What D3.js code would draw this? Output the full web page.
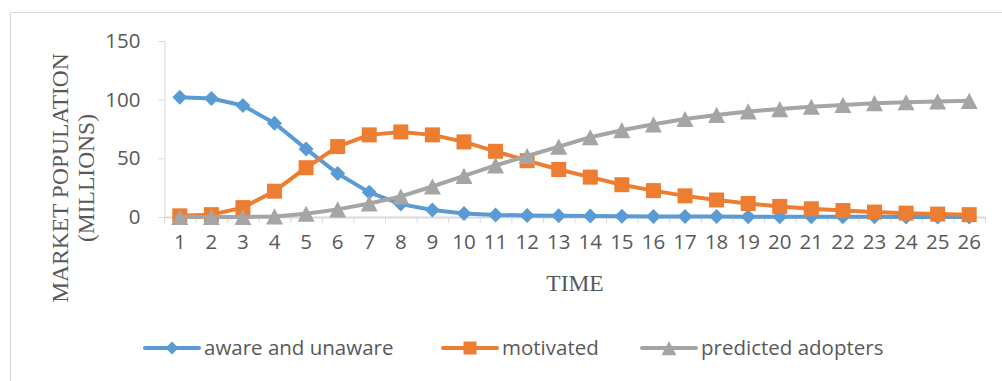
<!DOCTYPE html>
<html><head><meta charset="utf-8">
<script src="https://cdn.jsdelivr.net/npm/d3@7"></script>
<style>
body{margin:0;background:#fff;}
svg{display:block;}
</style></head>
<body>
<svg id="chart" width="1002" height="381"></svg>
<script>
const times = d3.range(1, 27).map(String);
const aware = [102, 101, 95, 80, 58, 37, 21, 11, 6, 3, 1.8, 1.3, 1, 0.8, 0.6, 0.5, 0.5, 0.4, 0.3, 0.3, 0.2, 0.2, 0.2, 0.1, 0.1, 0.1];
const motivated = [1, 2, 8, 22, 42, 60, 70, 72.5, 70, 64, 56, 48, 40.5, 34, 27.5, 22.5, 18, 14.5, 11.5, 9, 7, 5.5, 4.2, 3.3, 2.5, 2];
const adopters = [0, 0, 0, 0.5, 2.8, 6.5, 11.5, 17.5, 26, 35, 44, 52, 60, 68, 74, 79, 83.5, 87, 90, 92, 94, 95.5, 97, 97.8, 98.5, 99];
const yTicks = [0, 50, 100, 150];
const seriesNames = ["aware and unaware", "motivated", "predicted adopters"];
const seriesColors = ["#5B9BD5", "#ED7D31", "#A5A5A5"];

(function () {
// marker shapes (size = bounding box width in px)
const diamondShape = { draw(ctx, w) { const r = w / 2; ctx.moveTo(0, -r); ctx.lineTo(r, 0); ctx.lineTo(0, r); ctx.lineTo(-r, 0); ctx.closePath(); } };
const squareShape = { draw(ctx, w) { const r = w / 2; ctx.rect(-r, -r, w, w); } };
const triangleShape = { draw(ctx, w) { const r = w / 2, h = w * 0.95 / 2; ctx.moveTo(0, -h); ctx.lineTo(r, h); ctx.lineTo(-r, h); ctx.closePath(); } };
const shapes = [diamondShape, squareShape, triangleShape];
const markerW = [15, 15, 17];

const svg = d3.select("#chart");
const sans = "'Open Sans', 'Noto Sans', sans-serif";
const serif = "'Liberation Serif', 'Times New Roman', serif";
const textCol = "#595959";
const axisCol = "#d9d9d9";

// outer frame
svg.append("path").attr("d", "M10.5,381 V12.5 H1002").attr("fill", "none").attr("stroke", axisCol).attr("stroke-width", 1);

const mLeft = 164, mRight = 985, mTop = 41, mBottom = 217;
const x = d3.scaleBand().domain(times).range([mLeft, mRight]);
const y = d3.scaleLinear().domain([0, 150]).range([mBottom, mTop]);

// y axis
const yAxis = svg.append("g").attr("transform", `translate(${mLeft + 0.5},0)`)
  .call(d3.axisLeft(y).tickValues(yTicks).tickSize(6).tickPadding(18));
yAxis.select(".domain").attr("stroke", axisCol);
yAxis.selectAll(".tick line").attr("stroke", axisCol);
yAxis.selectAll(".tick text").attr("fill", textCol).style("font-family", sans).style("font-size", "20.5px");

// x axis
const xAxis = svg.append("g").attr("transform", `translate(0,${mBottom})`)
  .call(d3.axisBottom(x).tickSize(0).tickPadding(17));
xAxis.select(".domain").attr("stroke", axisCol).attr("stroke-width", 2);
xAxis.selectAll(".tick text").attr("fill", textCol).style("font-family", sans).style("font-size", "20.5px");
// category boundary tick marks
const bounds = times.map(t => x(t)).concat([mRight]);
svg.append("g").selectAll("line").data(bounds).join("line")
  .attr("x1", d => d + 0.5).attr("x2", d => d + 0.5)
  .attr("y1", mBottom).attr("y2", mBottom + 6)
  .attr("stroke", axisCol).attr("stroke-width", 1);

// axis titles
svg.append("text").attr("x", 575).attr("y", 291).attr("text-anchor", "middle")
  .attr("fill", textCol).style("font-family", serif).style("font-size", "23.5px").text("TIME");
const yt = svg.append("text").attr("transform", "translate(68,178) rotate(-90)")
  .attr("text-anchor", "middle").attr("fill", textCol).style("font-family", serif).style("font-size", "23.5px");
yt.append("tspan").attr("x", 0).attr("dy", 0).text("MARKET POPULATION");
yt.append("tspan").attr("x", 0).attr("dy", 26).text("(MILLIONS)");

// series
const allSeries = [aware, motivated, adopters];
const cx = i => x(times[i]) + x.bandwidth() / 2;
const line = d3.line().x((d, i) => cx(i)).y(d => y(d));
allSeries.forEach((vals, s) => {
  const g = svg.append("g");
  g.append("path").attr("d", line(vals)).attr("fill", "none")
    .attr("stroke", seriesColors[s]).attr("stroke-width", 4).attr("stroke-linejoin", "round").attr("stroke-linecap", "round");
  g.selectAll("path.m").data(vals).join("path").attr("class", "m")
    .attr("transform", (d, i) => `translate(${cx(i)},${y(d)})`)
    .attr("d", d3.symbol().type(shapes[s]).size(markerW[s]))
    .attr("fill", seriesColors[s]);
});

// legend
const legendX = [145, 443, 642];
const legendY = 348;
seriesNames.forEach((name, s) => {
  const g = svg.append("g").attr("transform", `translate(${legendX[s]},${legendY})`);
  g.append("line").attr("x1", 0).attr("x2", 54).attr("y1", 0).attr("y2", 0)
    .attr("stroke", seriesColors[s]).attr("stroke-width", 4).attr("stroke-linecap", "round");
  g.append("path").attr("transform", "translate(27,0)")
    .attr("d", d3.symbol().type(shapes[s]).size(markerW[s] - 2)).attr("fill", seriesColors[s]);
  g.append("text").attr("x", 59).attr("y", 0).attr("dy", "0.36em")
    .attr("fill", textCol).style("font-family", sans).style("font-size", "20.5px").text(name);
});
})();
</script>
</body></html>
